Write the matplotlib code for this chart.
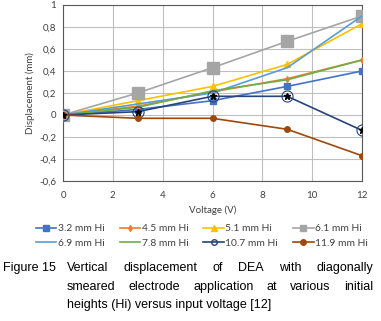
import numpy as np
import matplotlib
matplotlib.use("Agg")
import matplotlib.pyplot as plt
from matplotlib.lines import Line2D

voltage = [0, 3, 6, 9, 12]
labels = ["3.2 mm Hi", "4.5 mm Hi", "5.1 mm Hi", "6.1 mm Hi",
          "6.9 mm Hi", "7.8 mm Hi", "10.7 mm Hi", "11.9 mm Hi"]
hi_32 = [0, 0.05, 0.13, 0.26, 0.40]
hi_45 = [0, 0.08, 0.21, 0.33, 0.50]
hi_51 = [0, 0.13, 0.26, 0.46, 0.83]
hi_61 = [0, 0.20, 0.43, 0.67, 0.90]
hi_69 = [0, 0.10, 0.20, 0.43, 0.90]
hi_78 = [0, 0.07, 0.22, 0.32, 0.50]
hi_107 = [0, 0.03, 0.17, 0.17, -0.14]
hi_119 = [0, -0.03, -0.03, -0.13, -0.37]

series = [hi_32, hi_45, hi_51, hi_61, hi_69, hi_78, hi_107, hi_119]
colors = ["#4472C4", "#ED7D31", "#FFC000", "#A5A5A5",
          "#5B9BD5", "#70AD47", "#264478", "#9E480E"]
markers = ["s", "d", "^", "s", None, None, "*", "o"]
msizes = [5, 3, 4, 8, 0, 0, 5, 4]
leg_ms = [4, 3, 4, 4, 0, 0, 4, 4]

plt.rcParams["font.family"] = ["Lato", "DejaVu Sans"]

W, H = 381, 321
fig = plt.figure(figsize=(W / 100, H / 100), dpi=100)
ax = fig.add_axes([63 / W, 1 - 181 / H, (362 - 63) / W, (181 - 5) / H])

handles = []
for y, c, m, ms, lms, lab in zip(series, colors, markers, msizes, leg_ms, labels):
    if m == "*":
        ax.plot(voltage, y, color=c, lw=1.2, marker="o", ms=8, mfc="none",
                mec=c, mew=0.8, zorder=3)
        ax.plot(voltage, y, color=c, lw=0, marker="*", ms=5, mfc="black",
                mec="black", zorder=4)
        handles.append(Line2D([], [], color=c, lw=1.2, marker="o", ms=lms,
                              mfc="none", mec=c, label=lab))
    else:
        ax.plot(voltage, y, color=c, lw=1.2, marker=m, ms=ms, mec=c, zorder=3)
        handles.append(Line2D([], [], color=c, lw=1.2, marker=m, ms=lms,
                              mec=c, label=lab))

ax.set_xlim(0, 12)
ax.set_ylim(-0.6, 1.0)
ax.set_xticks(np.arange(0, 13, 2))
ax.set_yticks(np.arange(-0.6, 1.01, 0.2))
ax.set_yticklabels(["-0,6", "-0,4", "-0,2", "0", "0,2", "0,4", "0,6", "0,8", "1"])
ax.grid(True, color="#BFBFBF", lw=0.8)
ax.set_axisbelow(True)
for s in ax.spines.values():
    s.set_color("#595959")
    s.set_linewidth(0.8)
ax.tick_params(length=0, labelsize=7, colors="#404040")
ax.tick_params(axis="x", pad=7)
ax.tick_params(axis="y", pad=5)
ax.set_xlabel("Voltage (V)", fontsize=7, color="#404040", labelpad=4)
ax.set_ylabel("Displacement (mm)", fontsize=7, color="#404040", labelpad=3)

# row-major ordering for a 4-column legend
order = [0, 4, 1, 5, 2, 6, 3, 7]
fig.legend([handles[i] for i in order], [labels[i] for i in order],
           loc="center", bbox_to_anchor=(0.53, 1 - 236 / H), ncol=4,
           frameon=False, fontsize=7.4, handlelength=2.0, columnspacing=1.45,
           handletextpad=0.15, labelspacing=0.5, labelcolor="#404040")

# caption, justified
cap_font = dict(family="Liberation Sans", fontsize=9, color="black")
fig.text(3 / W, 1 - 268 / H, "Figure 15", va="center", ha="left", **cap_font)
lines = ["Vertical displacement of DEA with diagonally",
         "smeared electrode application at various initial",
         "heights (Hi) versus input voltage [12]"]
ys = [268, 287, 305]
x0, x1 = 67 / W, 373 / W
fig.canvas.draw()
r = fig.canvas.get_renderer()
for i, (ln, yy) in enumerate(zip(lines, ys)):
    words = ln.split()
    if i == len(lines) - 1:
        fig.text(x0, 1 - yy / H, ln, va="center", ha="left", **cap_font)
        continue
    ts = [fig.text(0, 1 - yy / H, w, va="center", ha="left", **cap_font) for w in words]
    widths = [t.get_window_extent(r).width / W for t in ts]
    gap = (x1 - x0 - sum(widths)) / (len(words) - 1)
    x = x0
    for t, w in zip(ts, widths):
        t.set_x(x)
        x += w + gap

fig.savefig("out.png", dpi=100)
